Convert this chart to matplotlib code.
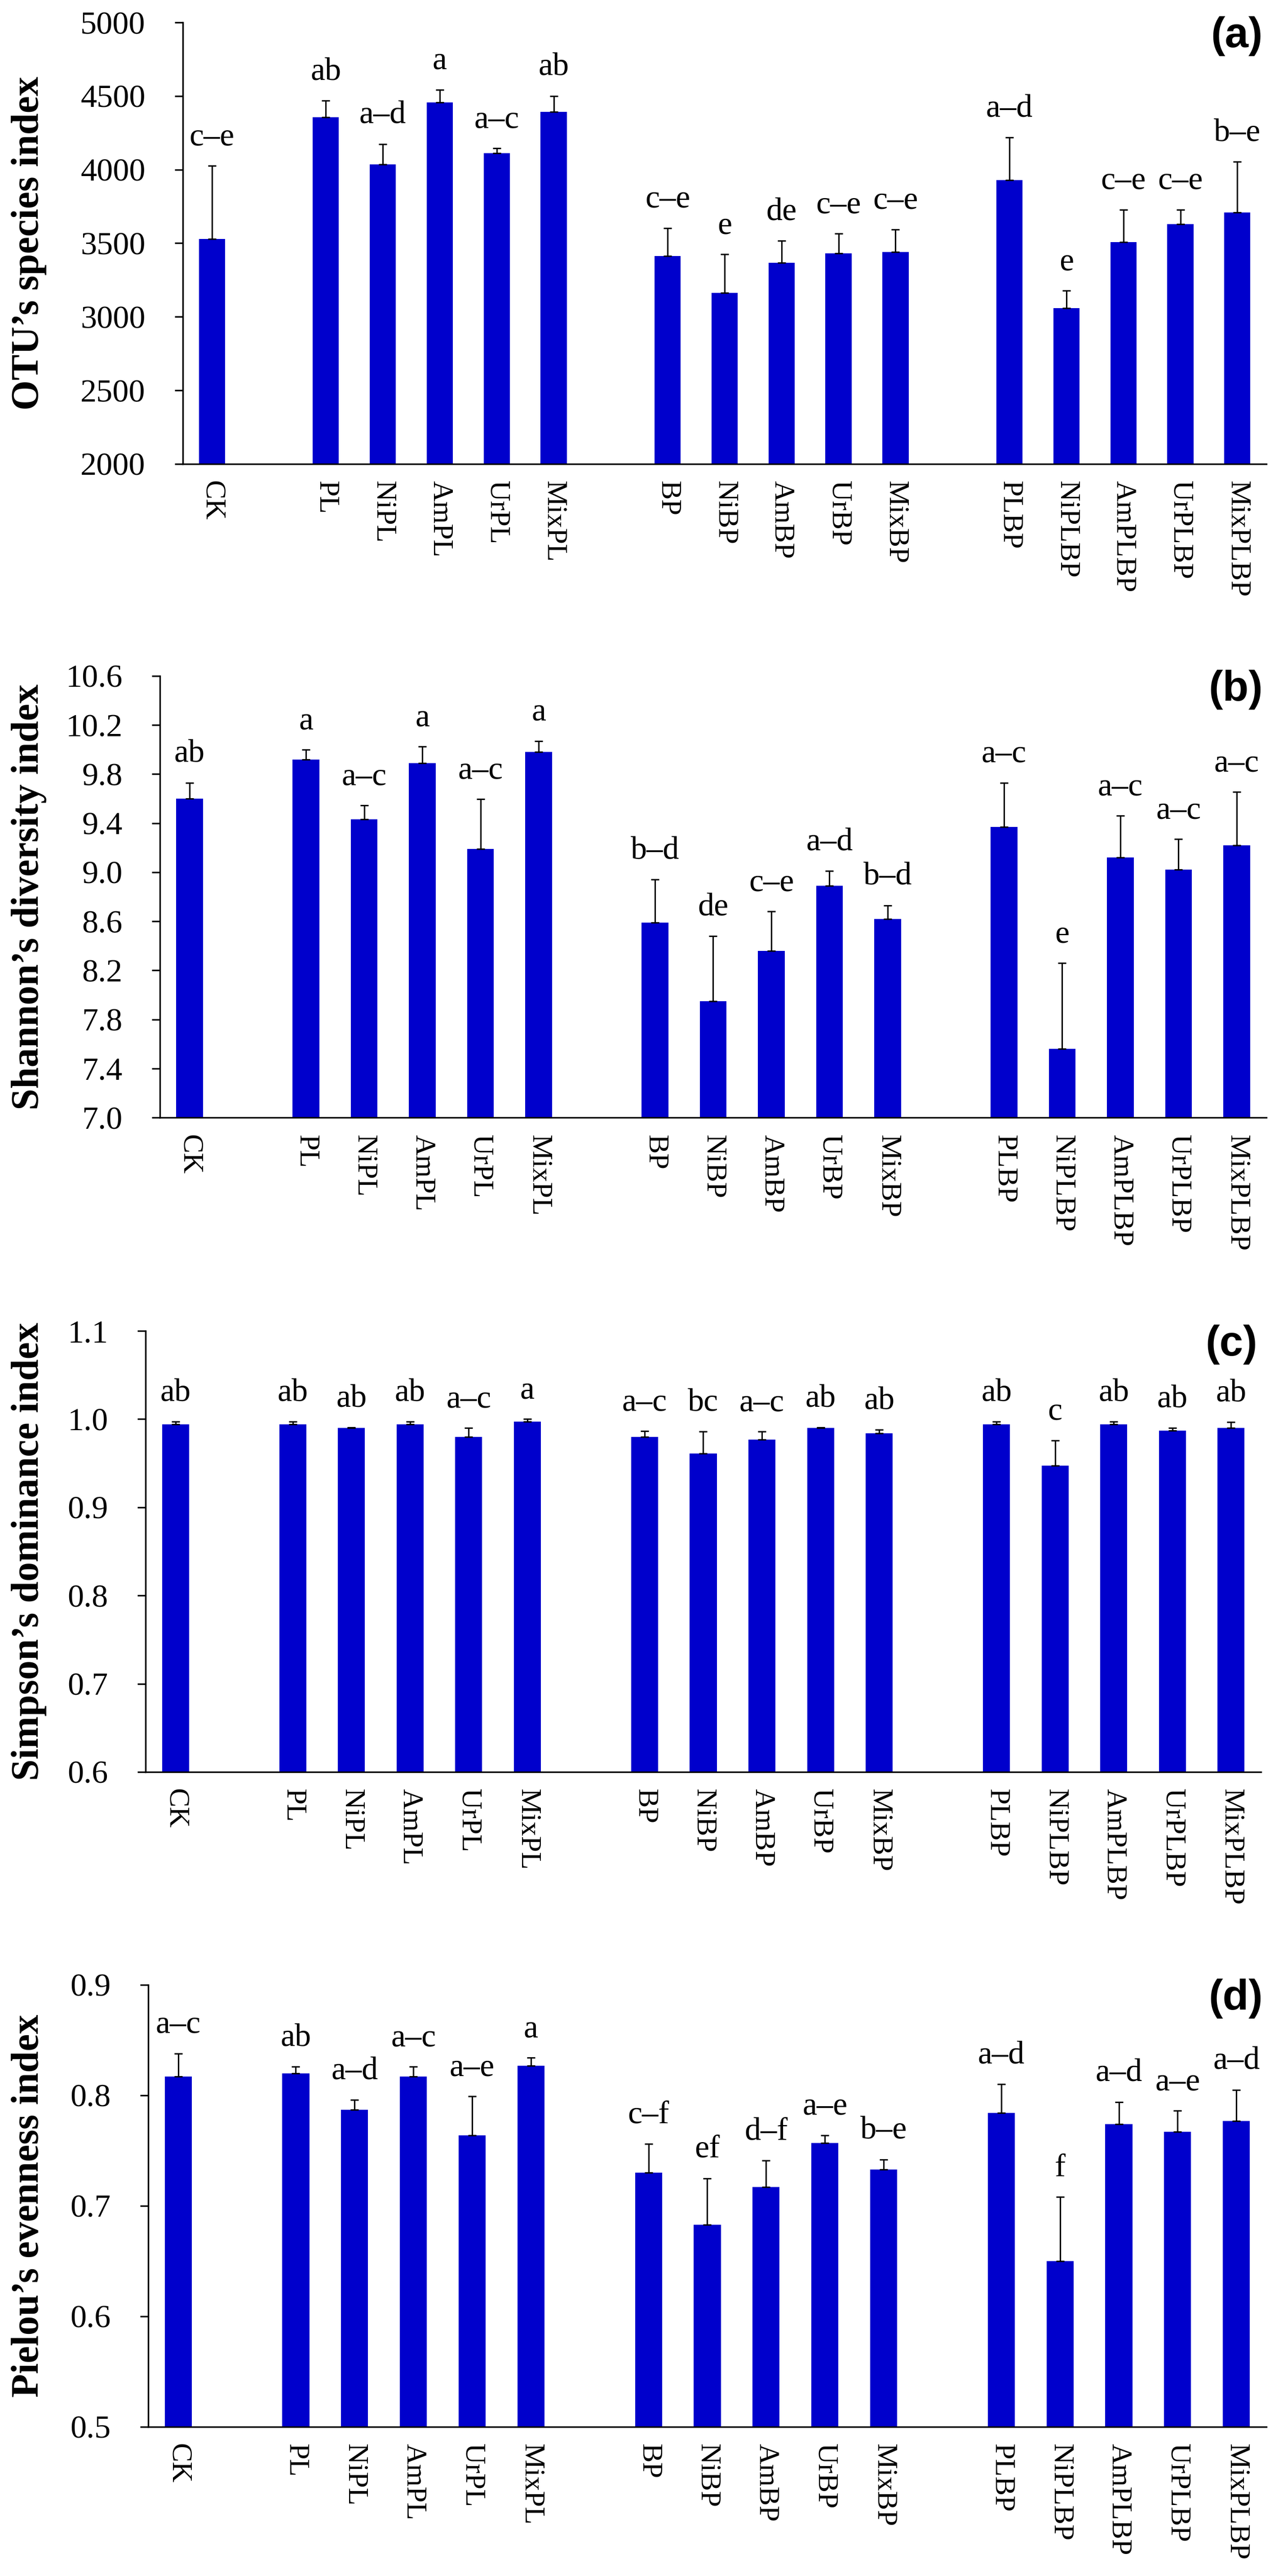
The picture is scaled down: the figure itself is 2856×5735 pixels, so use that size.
import numpy as np
import matplotlib
matplotlib.use("Agg")
import matplotlib.pyplot as plt

plt.rcParams['font.family'] = ['Liberation Serif', 'DejaVu Serif']

# treatments, in plotting order (blank slot between groups)
treatments = ["CK",
              "PL", "NiPL", "AmPL", "UrPL", "MixPL",
              "BP", "NiBP", "AmBP", "UrBP", "MixBP",
              "PLBP", "NiPLBP", "AmPLBP", "UrPLBP", "MixPLBP"]
group_sizes = [1, 5, 5, 5]

# (a) OTU's species index
otu_mean = [3529, 4355, 4035, 4456, 4111, 4393, 3413, 3162, 3366, 3430, 3442,
            3928, 3059, 3509, 3630, 3708]
otu_err = [497, 114, 139, 87, 34, 108, 190, 262, 150, 135, 152,
           291, 118, 219, 98, 345]
otu_sig = ["c–e", "ab", "a–d", "a", "a–c", "ab", "c–e", "e", "de", "c–e", "c–e",
           "a–d", "e", "c–e", "c–e", "b–e"]

# (b) Shannon's diversity index
sha_mean = [9.60, 9.92, 9.43, 9.89, 9.19, 9.98, 8.59, 7.95, 8.36, 8.89, 8.62,
            9.37, 7.56, 9.12, 9.02, 9.22]
sha_err = [0.13, 0.08, 0.115, 0.135, 0.405, 0.09, 0.35, 0.53, 0.32, 0.12, 0.11,
           0.36, 0.70, 0.34, 0.25, 0.435]
sha_sig = ["ab", "a", "a–c", "a", "a–c", "a", "b–d", "de", "c–e", "a–d", "b–d",
           "a–c", "e", "a–c", "a–c", "a–c"]

# (c) Simpson's dominance index
sim_mean = [0.994, 0.994, 0.990, 0.994, 0.980, 0.997, 0.980, 0.961, 0.977, 0.990, 0.984,
            0.994, 0.947, 0.994, 0.987, 0.990]
sim_err = [0.003, 0.003, 0.0005, 0.003, 0.010, 0.003, 0.0065, 0.025, 0.009, 0.0005, 0.004,
           0.003, 0.029, 0.003, 0.003, 0.0065]
sim_sig = ["ab", "ab", "ab", "ab", "a–c", "a", "a–c", "bc", "a–c", "ab", "ab",
           "ab", "c", "ab", "ab", "ab"]

# (d) Pielou's evenness index
pie_mean = [0.817, 0.820, 0.787, 0.817, 0.764, 0.827, 0.730, 0.683, 0.717, 0.757, 0.733,
            0.784, 0.650, 0.774, 0.767, 0.777]
pie_err = [0.021, 0.006, 0.009, 0.009, 0.035, 0.007, 0.026, 0.042, 0.024, 0.007, 0.009,
           0.026, 0.058, 0.020, 0.019, 0.028]
pie_sig = ["a–c", "ab", "a–d", "a–c", "a–e", "a", "c–f", "ef", "d–f", "a–e", "b–e",
           "a–d", "f", "a–d", "a–e", "a–d"]

# x positions with a gap between treatment groups
xpos = []
start = 0
for n in group_sizes:
    xpos += list(range(start, start + n))
    start += n + 1
xpos = np.array(xpos)

panels = [
    ("OTU’s species index", otu_mean, otu_err, otu_sig, (2000, 5000), np.arange(2000, 5001, 500), "{:.0f}", "(a)"),
    ("Shannon’s diversity index", sha_mean, sha_err, sha_sig, (7.0, 10.6), np.arange(7.0, 10.61, 0.4), "{:.1f}", "(b)"),
    ("Simpson’s dominance index", sim_mean, sim_err, sim_sig, (0.6, 1.1), np.arange(0.6, 1.101, 0.1), "{:.1f}", "(c)"),
    ("Pielou’s evenness index", pie_mean, pie_err, pie_sig, (0.5, 0.9), np.arange(0.5, 0.901, 0.1), "{:.1f}", "(d)"),
]

W, H = 2856, 5735
fig = plt.figure(figsize=(W / 100, H / 100), dpi=100)

# axes boxes in pixels: left, right, top, bottom
boxes = [(407, 2819, 50, 1033),
         (356, 2819, 1505, 2488),
         (324, 2807, 2963, 3945),
         (330, 2819, 4419, 5403)]

bar_color = "#0000CC"

for (ylab, mean, err, sig, ylim, yticks, fmt, tag), (l, r, t, b) in zip(panels, boxes):
    ax = fig.add_axes([l / W, 1 - b / H, (r - l) / W, (b - t) / H])
    mean = np.array(mean)
    err = np.array(err)
    ax.bar(xpos, mean, width=0.46, color=bar_color, zorder=2,
           yerr=[np.zeros_like(err), err],
           error_kw=dict(ecolor="black", elinewidth=2.3, capsize=6.5, capthick=2.3))
    for x, m, e, s in zip(xpos, mean, err, sig):
        ax.annotate(s, (x, m + e), xytext=(0, 33), textcoords="offset points",
                    ha="center", va="baseline", fontsize=52)
    ax.set_xlim(-0.51, 18.51)
    ax.set_ylim(*ylim)
    ax.set_yticks(yticks)
    ax.set_yticklabels([fmt.format(v) for v in yticks], fontsize=52)
    ax.set_xticks(xpos)
    ax.set_xticklabels(treatments, rotation=270, fontsize=46, va="top", ha="center")
    ax.tick_params(axis="x", length=0, pad=27)
    ax.tick_params(axis="y", length=13, width=2.5, pad=47, direction="out")
    for sp in ["top", "right"]:
        ax.spines[sp].set_visible(False)
    for sp in ["left", "bottom"]:
        ax.spines[sp].set_linewidth(2.5)
    ax.annotate(tag, (1, 1), xycoords="axes fraction", xytext=(-6, 10),
                textcoords="offset points", ha="right", va="top",
                fontsize=68, fontweight="bold", family="Liberation Sans")
    fig.text(65 / W, 1 - (t + b) / 2 / H, ylab, rotation=90, ha="center", va="center",
             fontsize=62, fontweight="bold")

fig.savefig("out.png", dpi=100)
